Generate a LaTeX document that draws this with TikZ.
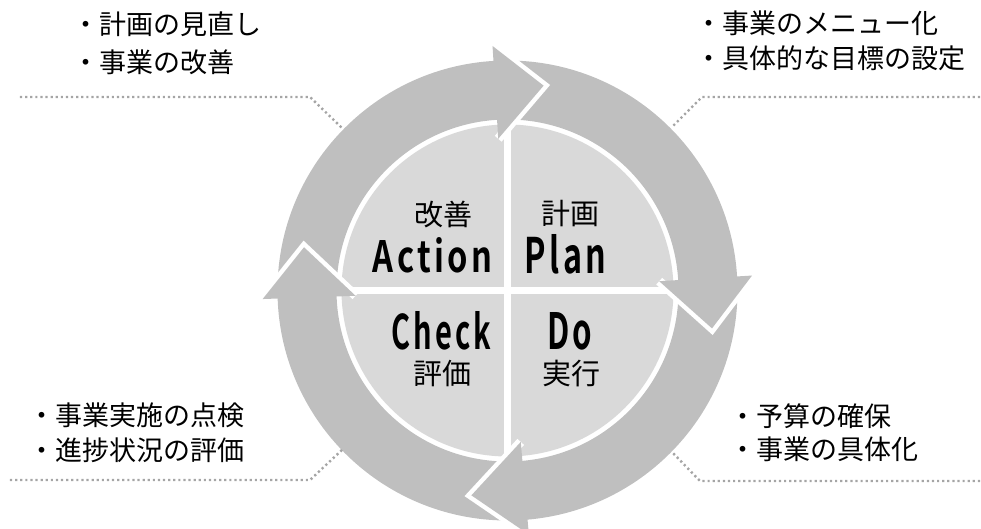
\documentclass[tikz,border=0pt]{standalone}
\usepackage{fontspec}
\setmainfont{Noto Sans CJK JP}
\newfontfamily\latinb{Noto Sans CJK JP}[UprightFont={* Bold}, LetterSpace=10]
\definecolor{ringgray}{RGB}{191,191,191}
\definecolor{discgray}{RGB}{217,217,217}
\definecolor{dotgray}{RGB}{165,165,165}
\begin{document}
\begin{tikzpicture}[x=1pt,y=1pt,
  outer/.style={anchor=west,inner sep=0pt,font=\fontsize{27}{32}\selectfont},
  quad/.style={anchor=center,inner sep=0pt,font=\fontsize{29}{34}\selectfont},
  word/.style={anchor=center,inner sep=0pt},
  leader/.style={draw=dotgray,line width=2.4pt,dash pattern=on 2.2pt off 2.9pt},
  sep/.style={draw=white,line width=7pt}]
\useasboundingbox (-507.5,-238.5) rectangle (473.5,290.5);
\clip (-507.5,-238.5) rectangle (473.5,290.5);
% ring
\fill[ringgray,even odd rule] (0,0) circle (230pt) (0,0) circle (171pt);
% disc
\fill[discgray] (0,0) coordinate (c) circle (166pt);
\coordinate (n) at (90:168pt);
\coordinate (s) at (-90:168pt);
\coordinate (e) at (0:168pt);
\coordinate (w) at (180:168pt);
\draw[sep] (n) -- (s);
\draw[sep] (w) -- (e);
% arrowheads
\foreach \b/\t [count=\k] in {93.5/80, 3.5/-10.5, -85/-100, 182/168}{
  \coordinate (in\k) at (\b:152pt);
  \coordinate (out\k) at (\b:245pt);
  \coordinate (tip\k) at (\t:208pt);
  \draw[white,line width=9pt,line join=miter] (in\k) -- (tip\k) -- (out\k);
  \fill[ringgray] (in\k) -- (tip\k) -- (out\k) -- cycle;
}
% quadrant labels
\node[quad] (kaizen) at (-64,76) {改善};
\node[quad] (keikaku) at (62.5,77) {計画};
\node[quad] (hyoka) at (-65,-83) {評価};
\node[quad] (jikko) at (63.5,-83.5) {実行};
\node[word] (action) at (-75,35) {\resizebox{119pt}{35pt}{\latinb Action}};
\node[word] (plan) at (58,36) {\resizebox{81pt}{39pt}{\latinb Plan}};
\node[word] (check) at (-66,-40.5) {\resizebox{99pt}{38pt}{\latinb Check}};
\node[word] (do) at (62,-40.5) {\resizebox{45pt}{37pt}{\latinb Do}};
% outer texts
\node[outer] (tl1) at (-435,266) {・計画の見直し};
\node[outer] (tl2) at (-435,227.8) {・事業の改善};
\node[outer] (tr1) at (187.5,266.8) {・事業のメニュー化};
\node[outer] (tr2) at (187.5,232.5) {・具体的な目標の設定};
\node[outer] (bl1) at (-478.8,-125) {・事業実施の点検};
\node[outer] (bl2) at (-478.8,-159.5) {・進捗状況の評価};
\node[outer] (br1) at (221.5,-125.5) {・予算の確保};
\node[outer] (br2) at (221.5,-159) {・事業の具体化};
% leader lines
\coordinate (tla) at (-487.5,193.5);
\coordinate (tlb) at (-197.5,193.5);
\coordinate (tlc) at (-165.5,162.5);
\coordinate (tra) at (472.5,193.5);
\coordinate (trb) at (194.5,193.5);
\coordinate (trc) at (164.5,163.5);
\coordinate (bla) at (-497.5,-189.5);
\coordinate (blb) at (-197.5,-189.5);
\coordinate (blc) at (-164.5,-158.5);
\coordinate (bra) at (472.5,-190.5);
\coordinate (brb) at (192.5,-190.5);
\coordinate (brc) at (164.5,-161.5);
\draw[leader] (tla) -- (tlb) -- (tlc);
\draw[leader] (tra) -- (trb) -- (trc);
\draw[leader] (bla) -- (blb) -- (blc);
\draw[leader] (bra) -- (brb) -- (brc);
\end{tikzpicture}
\end{document}
